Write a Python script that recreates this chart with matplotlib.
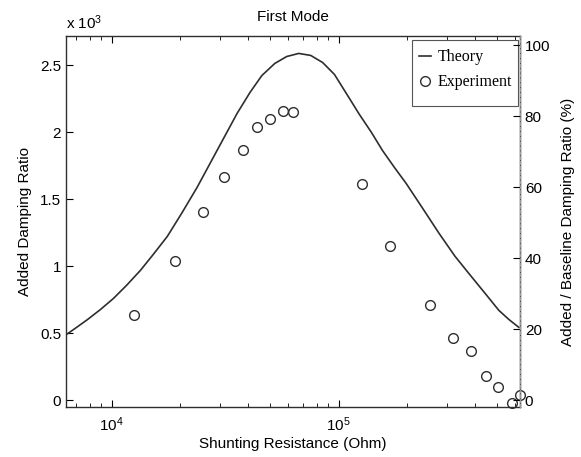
import numpy as np
import matplotlib
matplotlib.use('Agg')
import matplotlib.pyplot as plt
from matplotlib.patches import Rectangle

plt.rcParams['font.family'] = ['Liberation Sans', 'DejaVu Sans']
plt.rcParams['mathtext.fontset'] = 'custom'
plt.rcParams['mathtext.rm'] = 'Liberation Sans'
plt.rcParams['mathtext.it'] = 'Liberation Sans'

# theory curve (resistance in Ohm, added damping ratio in units of 1e-3)
theory_r = [6350, 7020, 7850, 8950, 10200, 11640, 13400, 15280, 17610,
            20480, 23820, 29170, 35730, 40740, 45940, 52360, 59130, 66790,
            75400, 85110, 95940, 111690, 123590, 139630, 156050, 176200,
            198610, 233350, 277330, 325970, 387260, 445860, 508160, 562340,
            622300]
theory_zeta = [0.493, 0.545, 0.604, 0.679, 0.761, 0.858, 0.970, 1.090, 1.224,
               1.403, 1.590, 1.866, 2.142, 2.299, 2.425, 2.515, 2.567, 2.590,
               2.575, 2.522, 2.433, 2.254, 2.134, 2.000, 1.866, 1.739,
               1.619, 1.440, 1.246, 1.075, 0.918, 0.791, 0.672, 0.604,
               0.545]

# experiment points
exp_r = [12600, 19000, 25400, 31200, 37800, 43700, 50000, 56700, 63200,
         127000, 169000, 252000, 319000, 382000, 447000, 504000, 578000, 632000]
exp_zeta = [0.64, 1.04, 1.405, 1.67, 1.87, 2.04, 2.10, 2.16, 2.15,
            1.617, 1.15, 0.714, 0.468, 0.366, 0.18, 0.10, -0.017, 0.043]

baseline = 2.65  # baseline damping ratio (x 1e-3) for right axis
left_ticks = [0, 0.5, 1, 1.5, 2, 2.5]
left_labels = ['0', '0.5', '1', '1.5', '2', '2.5']
right_ticks = [0, 20, 40, 60, 80, 100]

fig = plt.figure(figsize=(5.81, 4.57), dpi=100)
ax = fig.add_axes([0.1136, 0.1094, 0.7814, 0.8118])

lc = '#2e2e2e'
ax.plot(theory_r, theory_zeta, '-', color=lc, lw=1.2, label='Theory')
ax.plot(exp_r, exp_zeta, 'o', mfc='none', mec=lc, mew=1.0, ms=7,
        label='Experiment', clip_on=False)

ax.set_xscale('log')
ax.set_xlim(6300, 630000)
ax.set_ylim(-0.05, 2.72)
ax.set_yticks(left_ticks)
ax.set_yticklabels(left_labels)
ax.tick_params(axis='both', which='both', direction='in', labelsize=11)
ax.tick_params(axis='x', which='both', top=True)
ax.tick_params(axis='x', which='major', length=5, pad=6)
ax.tick_params(axis='x', which='minor', length=3)
ax.tick_params(axis='y', which='major', length=5, right=False)

ax.set_xlabel('Shunting Resistance (Ohm)', fontsize=11, labelpad=2)
ax.set_ylabel('Added Damping Ratio', fontsize=11, labelpad=6)
ax.set_title('First Mode', fontsize=11, pad=11)
ax.text(0.0, 1.01, r'x 10$^{3}$', transform=ax.transAxes, fontsize=11,
        ha='left', va='bottom')

for s in ax.spines.values():
    s.set_color(lc)
    s.set_linewidth(1.0)

ax2 = ax.twinx()
lo, hi = ax.get_ylim()
ax2.set_ylim(lo / baseline * 100, hi / baseline * 100)
ax2.set_yticks(right_ticks)
ax2.tick_params(axis='y', direction='in', length=5, labelsize=11)
ax2.set_ylabel('Added / Baseline Damping Ratio (%)', fontsize=11, labelpad=8)
ax2.spines['right'].set_color('#9a9a9a')
ax2.spines['right'].set_linestyle((0, (2, 1.5)))
ax2.spines['right'].set_linewidth(1.0)
for k in ['left', 'top', 'bottom']:
    ax2.spines[k].set_visible(False)

# legend box drawn separately (taller than the entries need)
box = Rectangle((0.762, 0.811), 0.2336, 0.178, transform=ax.transAxes,
                facecolor='white', edgecolor='#555555', lw=0.8, zorder=4.5)
ax.add_patch(box)
leg = ax.legend(loc='center right', bbox_to_anchor=(0.9956, 0.909),
                borderaxespad=0, frameon=False,
                prop={'family': 'Liberation Serif', 'size': 11.5},
                handlelength=0.75, handletextpad=0.45, labelspacing=0.55,
                borderpad=0.35)
leg.set_zorder(5)

fig.savefig('out.png', dpi=100)
